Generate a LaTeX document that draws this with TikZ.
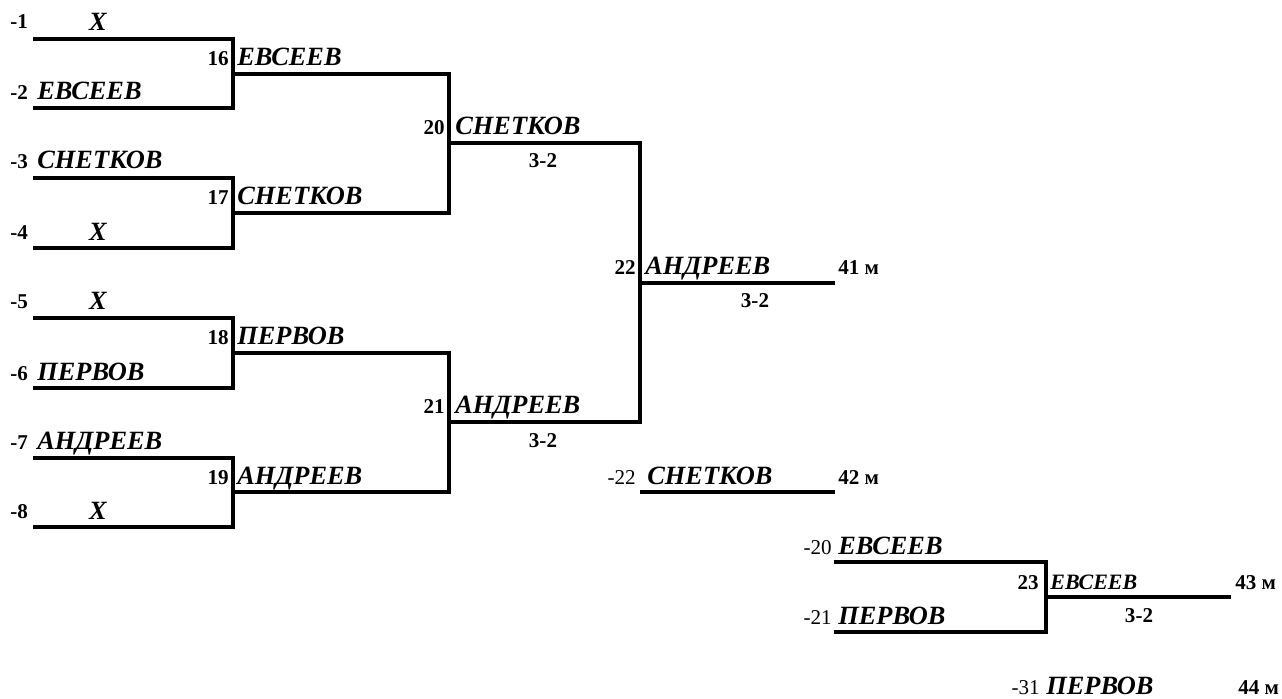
\documentclass[tikz,border=0pt]{standalone}
\usepackage{fontspec}
\setmainfont{Liberation Serif}
\begin{document}
\begin{tikzpicture}[x=0.02cm, y=-0.02cm]
	\tikzset{ln/.style={line width=2pt},
		nm/.style={inner sep=0pt, anchor=base west, font=\fontsize{15}{15}\selectfont\bfseries\itshape},
		nmsmall/.style={nm, font=\fontsize{12.5}{12.5}\selectfont\bfseries\itshape},
		xx/.style={nm, anchor=base},
		sd/.style={inner sep=0pt, anchor=base west, font=\fontsize{12}{12}\selectfont\bfseries},
		no/.style={inner sep=0pt, anchor=base east, font=\fontsize{12}{12}\selectfont\bfseries},
		lo/.style={inner sep=0pt, anchor=base east, font=\fontsize{12}{12}\selectfont},
		sc/.style={inner sep=0pt, anchor=base, font=\fontsize{12}{12}\selectfont\bfseries},
		pl/.style={sd}};

	\useasboundingbox (0,0) rectangle (1282,699);

	% bracket points
	\coordinate (s1) at (33,39);
	\coordinate (s2) at (33,108);
	\coordinate (s3) at (33,178);
	\coordinate (s4) at (33,248);
	\coordinate (s5) at (33,318);
	\coordinate (s6) at (33,388);
	\coordinate (s7) at (33,458);
	\coordinate (s8) at (33,527);
	\coordinate (m16) at (233,74);
	\coordinate (m17) at (233,213);
	\coordinate (m18) at (233,353);
	\coordinate (m19) at (233,492);
	\coordinate (m20) at (449,143);
	\coordinate (m21) at (449,422);
	\coordinate (m22) at (640,283);
	\coordinate (f41) at (835,283);
	\coordinate (t22) at (640,492);
	\coordinate (f42) at (835,492);
	\coordinate (s20) at (834,562);
	\coordinate (s21) at (834,632);
	\coordinate (m23) at (1046,597);
	\coordinate (f43) at (1231,597);

	\draw[ln] (s1) -| (m16) |- (s2);
	\draw[ln] (s3) -| (m17) |- (s4);
	\draw[ln] (s5) -| (m18) |- (s6);
	\draw[ln] (s7) -| (m19) |- (s8);

	\draw[ln] (m16) -| (m20) |- (m17);
	\draw[ln] (m18) -| (m21) |- (m19);

	\draw[ln] (m20) -| (m22) |- (m21);
	\draw[ln] (m22) -- (f41);

	\draw[ln] (t22) -- (f42);

	\draw[ln] (s20) -| (m23) |- (s21);
	\draw[ln] (m23) -- (f43);

	% first round
	\node[sd] (n1) at (10,29) {-1};
	\node[xx] (p1) at (98,31) {X};
	\node[sd] (n2) at (10,100) {-2};
	\node[nm] (p2) at (37,100) {ЕВСЕЕВ};
	\node[sd] (n3) at (10,169) {-3};
	\node[nm] (p3) at (37,169) {СНЕТКОВ};
	\node[sd] (n4) at (10,240) {-4};
	\node[xx] (p4) at (98,241) {X};
	\node[sd] (n5) at (10,309) {-5};
	\node[xx] (p5) at (98,310) {X};
	\node[sd] (n6) at (10,380) {-6};
	\node[nm] (p6) at (37,380) {ПЕРВОВ};
	\node[sd] (n7) at (10,449) {-7};
	\node[nm] (p7) at (37,449) {АНДРЕЕВ};
	\node[sd] (n8) at (10,518) {-8};
	\node[xx] (p8) at (98,519) {X};

	% second round
	\node[no] (n16) at (229,66) {16};
	\node[nm] (p16) at (237,66) {ЕВСЕЕВ};
	\node[no] (n17) at (229,205) {17};
	\node[nm] (p17) at (237,205) {СНЕТКОВ};
	\node[no] (n18) at (229,345) {18};
	\node[nm] (p18) at (237,345) {ПЕРВОВ};
	\node[no] (n19) at (229,484) {19};
	\node[nm] (p19) at (237,484) {АНДРЕЕВ};

	% semifinals
	\node[no] (n20) at (445,135) {20};
	\node[nm] (p20) at (455,135) {СНЕТКОВ};
	\node[sc] (r20) at (543,168) {3-2};
	\node[no] (n21) at (445,414) {21};
	\node[nm] (p21) at (455,414) {АНДРЕЕВ};
	\node[sc] (r21) at (543,447) {3-2};

	% final
	\node[no] (n22) at (636,275) {22};
	\node[nm] (p22) at (645,275) {АНДРЕЕВ};
	\node[sc] (r22) at (755,308) {3-2};
	\node[pl] (q41) at (838,275) {41 м};

	\node[lo] (l22) at (636,484) {-22};
	\node[nm] (w22) at (647,484) {СНЕТКОВ};
	\node[pl] (q42) at (838,484) {42 м};

	% third place
	\node[lo] (l20) at (832,554) {-20};
	\node[nm] (w20) at (838,554) {ЕВСЕЕВ};
	\node[lo] (l21) at (832,624) {-21};
	\node[nm] (w21) at (838,624) {ПЕРВОВ};
	\node[no] (n23) at (1039,589) {23};
	\node[nmsmall] (p23) at (1050,589) {ЕВСЕЕВ};
	\node[sc] (r23) at (1139,622) {3-2};
	\node[pl] (q43) at (1235,589) {43 м};

	\node[lo] (l31) at (1040,694) {-31};
	\node[nm] (w31) at (1046,694) {ПЕРВОВ};
	\node[pl] (q44) at (1238,694) {44 м};
\end{tikzpicture}
\end{document}
